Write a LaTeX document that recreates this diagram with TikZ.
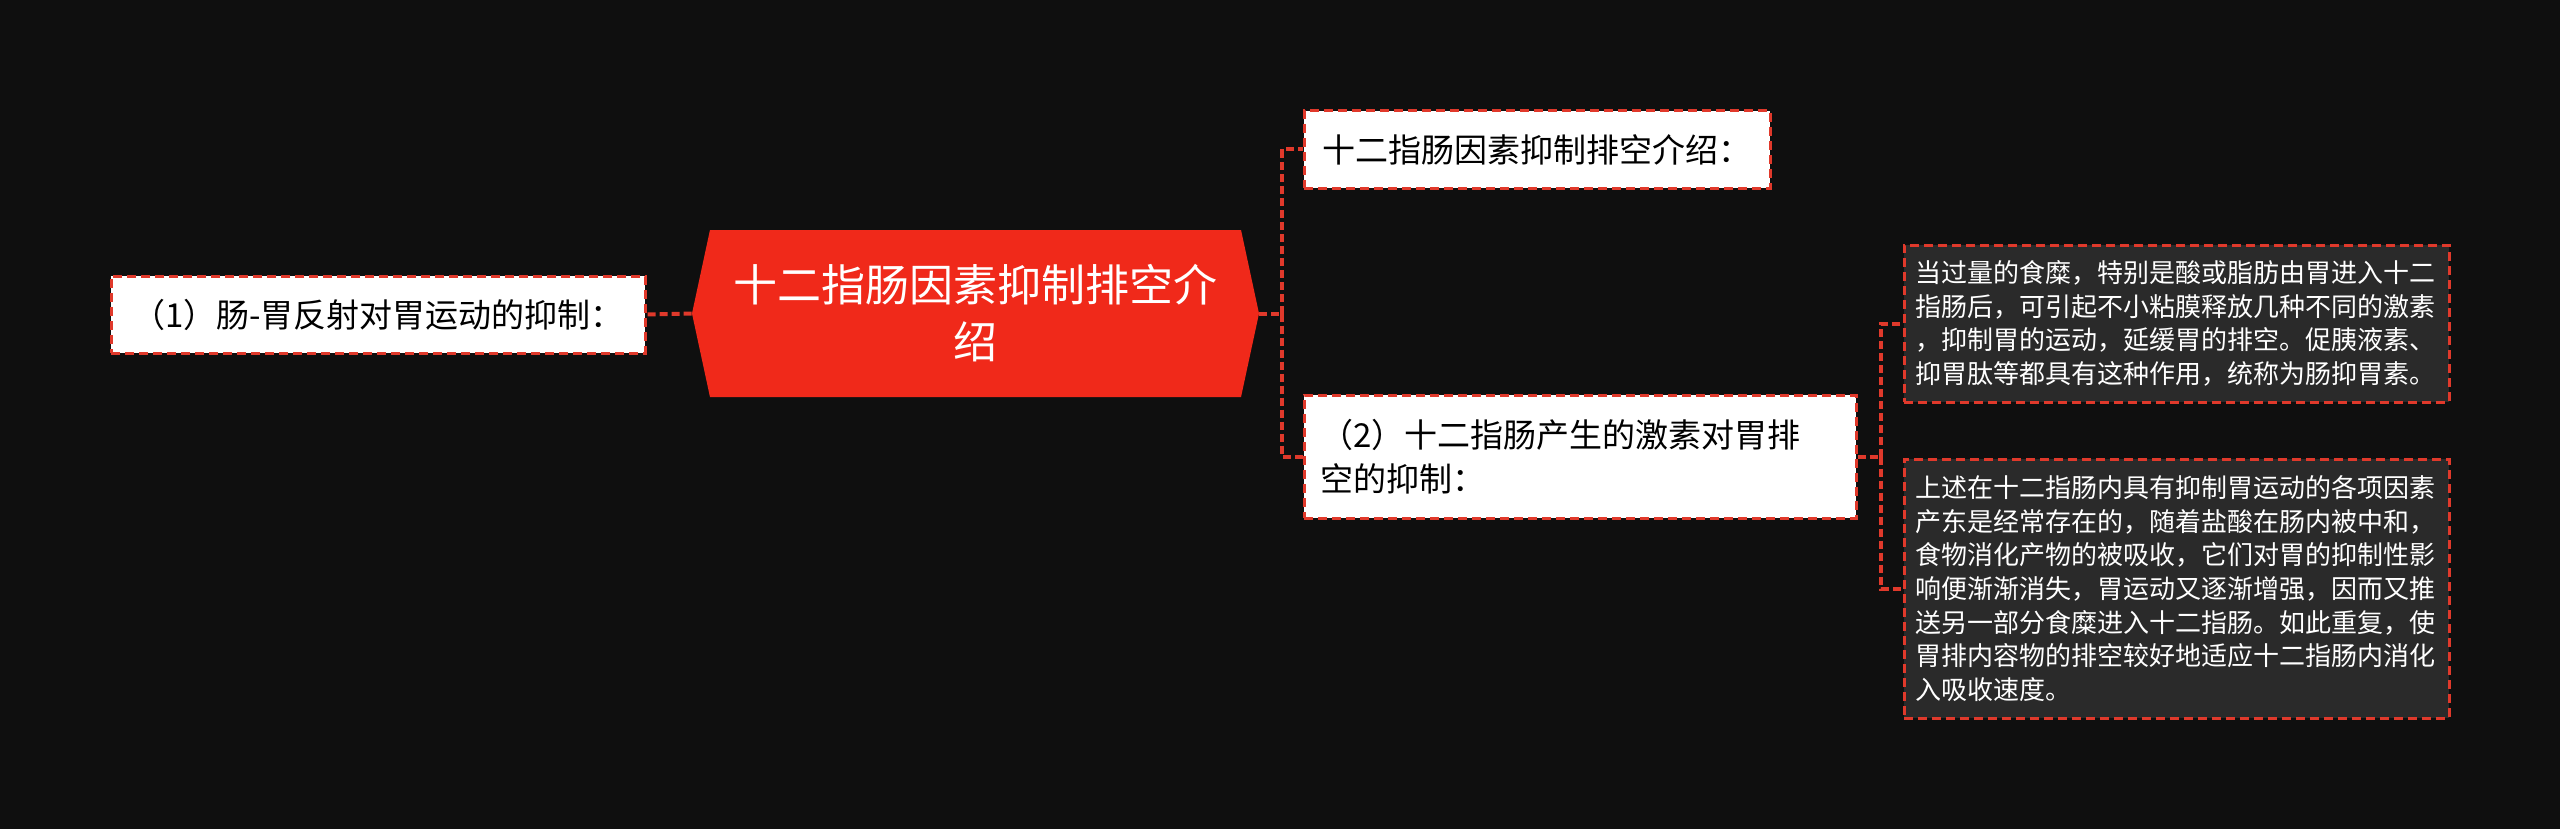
\documentclass[tikz,border=0pt]{standalone}
\usepackage{fontspec}
\setmainfont{Noto Sans CJK SC}
\usepackage{xcolor}
\usepackage{tikz}
\usetikzlibrary{shapes.symbols}

\definecolor{bgblack}{HTML}{0F0F0F}
\definecolor{rootred}{HTML}{F0291A}
\definecolor{linered}{HTML}{E0392B}
\definecolor{notegray}{HTML}{2A2A2A}

\tikzset{
  topic/.style={draw=linered,line width=1.5pt,dash pattern=on 4.5pt off 2.5pt,
    fill=white,text=black,font=\fontsize{16.5}{22}\selectfont,inner xsep=8pt},
  note/.style={draw=linered,line width=1.5pt,dash pattern=on 4.5pt off 2.5pt,
    fill=notegray,text=white,font=\fontsize{13}{16.8}\selectfont,
    align=left,text width=261pt,inner xsep=5.75pt},
  link/.style={draw=linered,line width=2pt,dash pattern=on 4pt off 2pt}
}

\begin{document}
\begin{tikzpicture}[x=1pt,y=-1pt]
  \fill[bgblack] (0,0) rectangle (1280,414.5);
  \useasboundingbox (0,0) rectangle (1280,414.5);

  \node (root) [shape=signal,signal to=west and east,signal pointer angle=155.7,
    fill=rootred,text=white,minimum width=283.5pt,minimum height=83.5pt,
    align=center,font=\fontsize{22}{28.5}\selectfont] at (487.75,156.75)
    {十二指肠因素抑制排空介\\绍};
  \node (reflex) [topic,minimum width=267pt,minimum height=38.5pt] at (189,157.25)
    {（1）肠-胃反射对胃运动的抑制：};
  \node (intro) [topic,minimum width=233pt,minimum height=38.5pt] at (768.5,74.75)
    {十二指肠因素抑制排空介绍：};
  \node (hormone) [topic,align=left,text width=260pt,minimum height=61.5pt] at (790,228.25)
    {（2）十二指肠产生的激素对胃排\\空的抑制：};
  \node (noteA) [note,minimum height=78.5pt] at (1088.25,161.75)
    {当过量的食糜，特别是酸或脂肪由胃进入十二\\指肠后，可引起不小粘膜释放几种不同的激素\\，抑制胃的运动，延缓胃的排空。促胰液素、\\抑胃肽等都具有这种作用，统称为肠抑胃素。};
  \node (noteB) [note,minimum height=129.5pt] at (1088.25,294.25)
    {上述在十二指肠内具有抑制胃运动的各项因素\\产东是经常存在的，随着盐酸在肠内被中和，\\食物消化产物的被吸收，它们对胃的抑制性影\\响便渐渐消失，胃运动又逐渐增强，因而又推\\送另一部分食糜进入十二指肠。如此重复，使\\胃排内容物的排空较好地适应十二指肠内消化\\入吸收速度。};

  \coordinate (forkA) at (641,156.75);
  \coordinate (forkB) at (940.5,228.25);
  \path[link]
    (root.west) edge (reflex.east)
    (root.east) edge (forkA)
    (forkA) edge[to path={|- (\tikztotarget)}] (intro.west)
            edge[to path={|- (\tikztotarget)}] (hormone.west)
    (hormone.east) edge (forkB)
    (forkB) edge[to path={|- (\tikztotarget)}] (noteA.west)
            edge[to path={|- (\tikztotarget)}] (noteB.west);
\end{tikzpicture}
\end{document}
